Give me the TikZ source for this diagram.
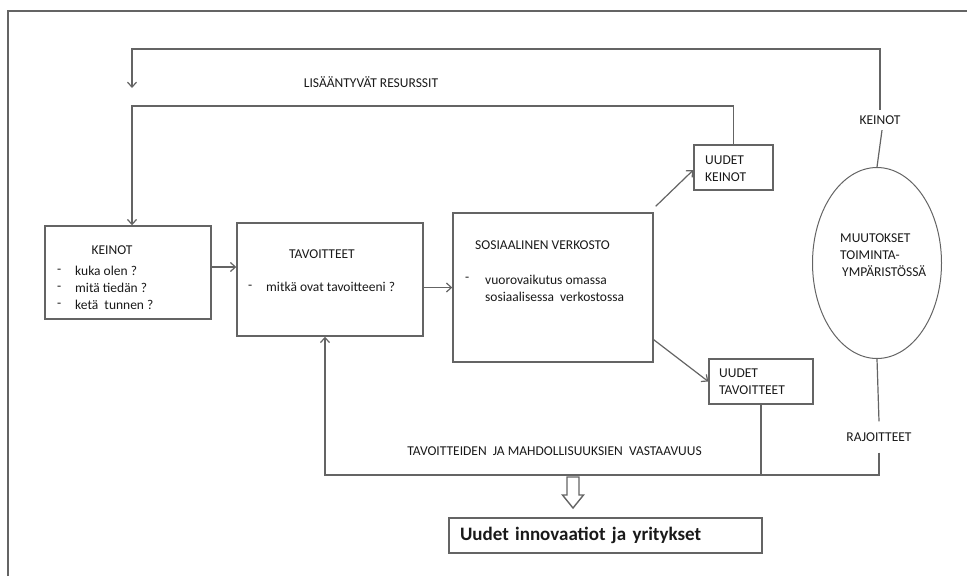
\documentclass[tikz,border=0pt]{standalone}
\usepackage{fontspec}
\setmainfont{Carlito}
\definecolor{linegrey}{RGB}{100,100,100}
\definecolor{textgrey}{RGB}{25,25,25}
\usetikzlibrary{arrows.meta,positioning,shapes.geometric}

\begin{document}
\begin{tikzpicture}[x=1pt,y=-1pt,
    box/.style={draw=linegrey, line width=1.4pt, inner sep=0pt},
    lbl/.style={text=textgrey, font=\fontsize{13.5}{17}\selectfont, inner sep=0pt, align=left},
    conn/.style={draw=linegrey, line width=1.2pt},
    arr/.style={conn, -{Straight Barb[length=5pt,width=9pt]}}]
  \useasboundingbox (0,0) rectangle (967,576);
  % frame of the figure
  \draw[linegrey, line width=1.4pt] (8,576) -- (8,11) -- (967,11);

  % boxes
  \node[box, minimum width=166pt, minimum height=93pt] (keinot) at (128,272.5) {};
  \node[box, minimum width=186pt, minimum height=113pt] (tav) at (330,279.5) {};
  \node[box, minimum width=200pt, minimum height=149pt] (sos) at (553,287.5) {};
  \node[box, minimum width=79pt, minimum height=45pt] (uk) at (733.5,167.5) {};
  \node[box, minimum width=104pt, minimum height=45pt] (ut) at (761,381.5) {};
  \node[draw=linegrey, line width=1pt, ellipse, minimum width=129pt, minimum height=191pt] (env) at (877,263) {};
  \node[box, minimum width=313pt, minimum height=35pt, inner xsep=11pt, text width=291pt,
        align=left, text=textgrey, font=\fontsize{19}{22}\selectfont\bfseries] (uusi) at (605.5,535.5)
        {Uudet innovaatiot ja yritykset};

  % texts in the boxes
  \node[lbl] (keinotT) at (112,250) {KEINOT};
  \node[lbl, anchor=west] (keinotB) at (57,288) {-\\-\\-};
  \node[lbl, anchor=west] (keinotL) at (75,288) {kuka olen ?\\mitä tiedän ?\\ketä\ \ tunnen ?};
  \node[lbl] (tavT) at (322,254) {TAVOITTEET};
  \node[lbl, anchor=west] (tavB) at (248,287) {-};
  \node[lbl, anchor=west] (tavL) at (266,287) {mitkä ovat tavoitteeni ?};
  \node[lbl, anchor=west] (sosT) at (475,245) {SOSIAALINEN VERKOSTO};
  \node[lbl, anchor=west] (sosB) at (465,279) {-};
  \node[lbl, anchor=west] (sosL) at (485,288) {vuorovaikutus omassa\\sosiaalisessa\ \ verkostossa};
  \node[lbl, anchor=west] (ukT) at (705,168.5) {UUDET\\KEINOT};
  \node[lbl, anchor=west] (utT) at (719,381.5) {UUDET\\TAVOITTEET};
  \node[lbl, anchor=west] (envT) at (840,255) {MUUTOKSET\\TOIMINTA-\\\hspace*{2pt}YMPÄRISTÖSSÄ};

  % labels on the loops
  \node[lbl] (res) at (371,82) {LISÄÄNTYVÄT RESURSSIT};
  \node[lbl] (vast) at (554.5,451) {TAVOITTEIDEN\ \ JA MAHDOLLISUUKSIEN\ \ VASTAAVUUS};
  \node[lbl, inner ysep=5.5pt] (kl) at (880,120) {KEINOT};
  \node[lbl, inner ysep=11pt] (rl) at (879,437) {RAJOITTEET};

  \coordinate (loopA) at (132,49);
  \coordinate (dropA) at (132,88);
  \coordinate (loopB) at (132,106);
  \coordinate (loopC) at (325,475);
  \coordinate (hA) at (573,477);
  \coordinate (hB) at (573,508);

  % connectors
  \draw[arr] ([yshift=5.5pt]keinot.east) -- ([yshift=5.5pt]keinot.east -| tav.west);
  \draw[arr] (tav.east |- sos.west) -- (sos.west);
  \draw[arr] ([xshift=2pt,yshift=6pt]sos.north east) -- ([yshift=-2.5pt]uk.west);
  \draw[arr] ([yshift=23pt]sos.south east) -- (ut.west);
  \draw[conn] (env.north) -- ([xshift=2pt]kl.south);
  \draw[arr] (kl.north) -- (kl.north |- loopA) -- (loopA) -- (dropA);
  \draw[arr] (uk.north) |- (loopB) -- (loopB |- keinot.north);
  \draw[conn] (env.south) -- (rl.north);
  \draw[arr] (rl.south) -- (rl.south |- loopC) -- (loopC) -- (loopC |- tav.south);
  \draw[conn] (ut.south) -- (ut.south |- loopC);

  % hollow arrow to the result
  \draw[conn, line width=1.4pt] (hA) ++(-6,0) -- ++(0,18) -- ++(-4.5,0) -- (hB)
    -- ++(10.5,-13) -- ++(-4.5,0) -- ++(0,-18) -- cycle;
\end{tikzpicture}
\end{document}
